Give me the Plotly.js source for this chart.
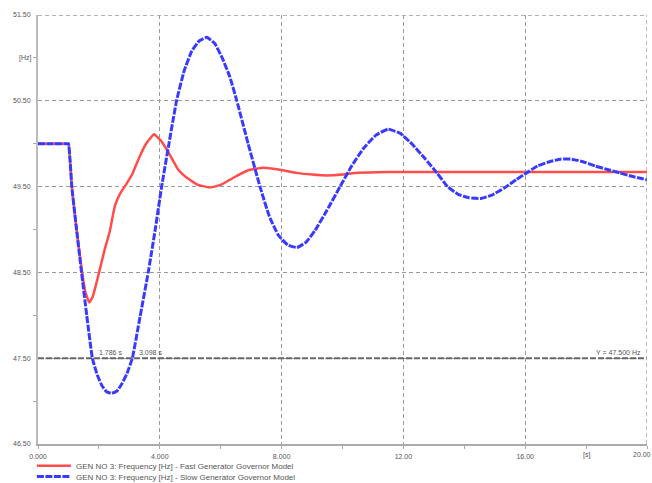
<!DOCTYPE html>
<html><head><meta charset="utf-8">
<script src="https://cdn.plot.ly/plotly-3.0.1.min.js"></script>
<style>html,body{margin:0;padding:0;background:#fff}#chart{width:652px;height:483px}</style>
</head><body><div id="chart"></div>
<script>
// Fast generator governor model (red)
const timeFast = [0, 0.5, 0.95, 1.0, 1.11, 1.25, 1.43, 1.55, 1.68, 1.8, 1.9, 2.04, 2.2, 2.36, 2.45, 2.53, 2.7, 2.91, 3.1, 3.35, 3.55, 3.81, 4.05, 4.33, 4.6, 4.9, 5.25, 5.65, 6.0, 6.4, 6.9, 7.4, 7.9, 8.5, 9.0, 9.5, 10.0, 10.5, 11.5, 12.5, 14, 16, 18, 20];
const freqFast = [50.0, 50.0, 50.0, 50.0, 49.5, 49.05, 48.55, 48.28, 48.15, 48.22, 48.35, 48.55, 48.78, 48.98, 49.15, 49.28, 49.42, 49.535, 49.65, 49.86, 50.0, 50.11, 50.03, 49.87, 49.7, 49.6, 49.52, 49.49, 49.52, 49.6, 49.69, 49.72, 49.7, 49.66, 49.64, 49.63, 49.64, 49.66, 49.67, 49.67, 49.67, 49.67, 49.67, 49.67];
// Slow generator governor model (blue)
const timeSlow = [0, 0.5, 0.95, 1.0, 1.11, 1.25, 1.43, 1.6, 1.786, 1.95, 2.1, 2.25, 2.42, 2.6, 2.75, 2.92, 3.098, 3.35, 3.62, 3.85, 4.06, 4.3, 4.55, 4.8, 5.05, 5.3, 5.54, 5.8, 6.05, 6.3, 6.53, 6.9, 7.29, 7.6, 7.9, 8.2, 8.5, 8.8, 9.1, 9.5, 9.92, 10.3, 10.7, 11.1, 11.5, 11.9, 12.3, 12.7, 13.1, 13.45, 13.8, 14.15, 14.52, 14.9, 15.3, 15.7, 16.05, 16.4, 16.8, 17.15, 17.53, 17.9, 18.3, 18.7, 19.1, 19.5, 20.0];
const freqSlow = [50.0, 50.0, 50.0, 50.0, 49.5, 49.05, 48.5, 48.0, 47.5, 47.3, 47.18, 47.11, 47.09, 47.12, 47.2, 47.32, 47.5, 47.98, 48.5, 49.0, 49.5, 50.0, 50.5, 50.85, 51.08, 51.2, 51.24, 51.17, 51.0, 50.78, 50.5, 50.0, 49.5, 49.15, 48.93, 48.82, 48.79, 48.85, 48.99, 49.23, 49.5, 49.74, 49.95, 50.1, 50.17, 50.12, 49.99, 49.83, 49.66, 49.5, 49.41, 49.37, 49.36, 49.4, 49.48, 49.58, 49.66, 49.74, 49.79, 49.82, 49.82, 49.79, 49.74, 49.7, 49.66, 49.62, 49.58];

const seriesNames = ['GEN NO 3: Frequency [Hz] - Fast Generator Governor Model', 'GEN NO 3: Frequency [Hz] - Slow Generator Governor Model'];
const xTickVals = [0, 4, 8, 12, 16, 20];
const xTickText = ['0.000', '4.000', '8.000', '12.00', '16.00', '20.00'];
const yTickVals = [46.5, 47.5, 48.5, 49.5, 50.5, 51.5];
const yTickText = ['46.50', '47.50', '48.50', '49.50', '50.50', '51.50'];
const xUnitPos = 18, xUnitText = '[s]';
const yUnitPos = 51.0, yUnitText = '[Hz]';
const thresholdHz = 47.5;
const thresholdLabel = 'Y = 47.500 Hz';
const crossingTimes = [1.786, 3.098];
const crossingLabels = ['1.786 s', '3.098 s'];

const FONT = 'Liberation Sans, Arial, sans-serif';
const TXT = '#555';
const GRID = '#9a9a9a';
const GRIDDASH = '4px,3px';

const traces = [
  {x: timeFast, y: freqFast, name: seriesNames[0], mode: 'lines', legend: 'legend',
   line: {color: '#ff4d4d', width: 2.5, shape: 'spline', smoothing: 0.35}},
  {x: timeSlow, y: freqSlow, name: seriesNames[1], mode: 'lines', legend: 'legend2',
   line: {color: '#3a3aff', width: 3, dash: '7px,1.5px', shape: 'spline', smoothing: 0.35}}
];

const lastX = xTickVals[xTickVals.length - 1];
const annotations = [
  {xref: 'paper', yref: 'y', x: 0, y: yUnitPos, text: yUnitText, showarrow: false, xanchor: 'right', xshift: -4, font: {family: FONT, size: 7, color: TXT}},
  {xref: 'x', yref: 'paper', x: xUnitPos, y: 0, text: xUnitText, showarrow: false, yanchor: 'top', yshift: -5, font: {family: FONT, size: 7, color: TXT}},
  {xref: 'paper', yref: 'y', x: 1, y: thresholdHz, text: thresholdLabel, showarrow: false, xanchor: 'right', yanchor: 'bottom', xshift: -4, yshift: 0, font: {family: FONT, size: 7, color: TXT}},
  {xref: 'x', yref: 'paper', x: lastX, y: 0, text: xTickText[xTickText.length - 1], showarrow: false, yanchor: 'top', yshift: -5, xshift: -5, font: {family: FONT, size: 7, color: TXT}}
];
crossingTimes.forEach((t, i) => annotations.push({xref: 'x', yref: 'y', x: t, y: thresholdHz, text: crossingLabels[i], showarrow: false, xanchor: 'left', yanchor: 'bottom', xshift: 5, font: {family: FONT, size: 7, color: TXT}}));

const layout = {
  width: 652, height: 483,
  margin: {l: 38, r: 5, t: 15, b: 39, autoexpand: false},
  paper_bgcolor: '#fff', plot_bgcolor: '#fff',
  font: {family: FONT, size: 7, color: TXT},
  xaxis: {range: [0, 20], tickvals: xTickVals.slice(0, -1), ticktext: xTickText.slice(0, -1), showgrid: true, gridcolor: GRID, griddash: GRIDDASH, gridwidth: 1.3,
          showline: true, linecolor: '#aaa', linewidth: 2, zeroline: false, ticks: '', ticklabelstandoff: 5,
          minor: {dtick: 2, tick0: 2, ticks: 'outside', ticklen: 3, tickcolor: '#aaa', showgrid: false},
          tickfont: {family: FONT, size: 7, color: TXT}},
  yaxis: {range: [46.5, 51.5], tickvals: yTickVals, ticktext: yTickText, showgrid: true, gridcolor: GRID, griddash: GRIDDASH, gridwidth: 1.3,
          showline: true, linecolor: '#bbb', linewidth: 2, zeroline: false, ticks: '', ticklabelstandoff: 4,
          minor: {dtick: 1, tick0: 47, ticks: 'outside', ticklen: 3, tickcolor: '#aaa', showgrid: false},
          tickfont: {family: FONT, size: 7, color: TXT}},
  shapes: [
    {type: 'line', xref: 'paper', yref: 'y', x0: 0, x1: 1, y0: thresholdHz, y1: thresholdHz, line: {color: '#666', width: 2, dash: '6px,2px'}},
    {type: 'line', xref: 'paper', yref: 'y', x0: 0, x1: 1, y0: yTickVals[yTickVals.length - 1], y1: yTickVals[yTickVals.length - 1], line: {color: GRID, width: 1.3, dash: GRIDDASH}},
    {type: 'line', xref: 'x', yref: 'paper', x0: lastX, x1: lastX, y0: 0, y1: 1, line: {color: GRID, width: 1.3, dash: GRIDDASH}}
  ],
  annotations: annotations,
  showlegend: true,
  legend: {x: -0.01, y: -0.0167, xanchor: 'left', yanchor: 'top', bgcolor: 'rgba(0,0,0,0)', font: {family: FONT, size: 8, color: TXT}, itemwidth: 34},
  legend2: {x: -0.01, y: -0.042, xanchor: 'left', yanchor: 'top', bgcolor: 'rgba(0,0,0,0)', font: {family: FONT, size: 8, color: TXT}, itemwidth: 34}
};

Plotly.newPlot('chart', traces, layout, {displayModeBar: false, staticPlot: true});
</script>
</body></html>
